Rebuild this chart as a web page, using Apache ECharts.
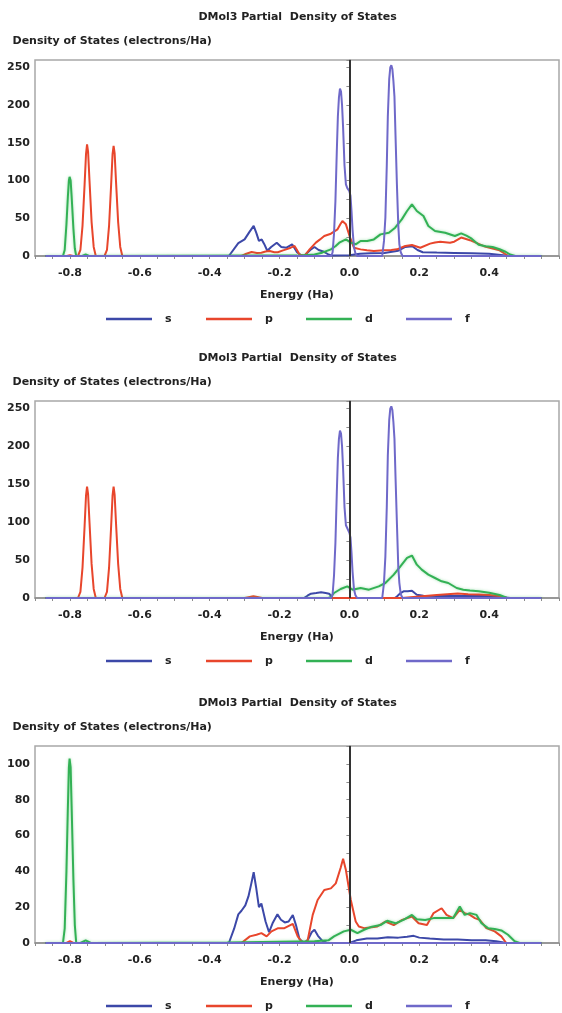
<!DOCTYPE html>
<html><head><meta charset="utf-8">
<script src="https://cdn.jsdelivr.net/npm/echarts@6/dist/echarts.min.js"></script>
<style>html,body{margin:0;padding:0;background:#fff}#c{width:562px;height:1013px}</style>
</head><body><div id="c"></div>
<script>
const seriesNames = ['s', 'p', 'd', 'f'];
const chartTitle = 'DMol3 Partial  Density of States';
const yAxisTitle = 'Density of States (electrons/Ha)';
const xAxisTitle = 'Energy (Ha)';
const xTickLabels = ['-0.8', '-0.6', '-0.4', '-0.2', '0.0', '0.2', '0.4'];
const yTickLabelsTop = [0, 50, 100, 150, 200, 250];
const yTickLabelsBottom = [0, 20, 40, 60, 80, 100];

// ---- Panel 1 (total) ----
const c1_s = [[-0.87,0],[-0.68,0],[-0.675,2],[-0.67,0],[-0.345,0],[-0.318,17],[-0.300,22],[-0.286,32],[-0.274,40],[-0.266,30],[-0.259,20],[-0.251,22],[-0.244,16],[-0.235,7],[-0.224,12],[-0.208,17.5],[-0.195,12],[-0.180,11],[-0.164,15.5],[-0.150,5],[-0.137,0.5],[-0.128,1],[-0.112,8],[-0.100,12],[-0.088,8],[-0.075,6],[-0.060,2],[-0.050,0.5],[0.0,1],[0.03,3],[0.06,3.5],[0.10,4],[0.14,7],[0.16,12],[0.18,13],[0.195,8],[0.21,5],[0.25,4.5],[0.30,4],[0.35,3.5],[0.40,3],[0.44,1],[0.46,0],[0.55,0]];
const c1_p = [[-0.87,0],[-0.81,0],[-0.80,1],[-0.79,0],[-0.777,0],[-0.770,8],[-0.764,40],[-0.758,95],[-0.754,135],[-0.751,148],[-0.748,138],[-0.744,100],[-0.738,45],[-0.732,12],[-0.726,0],[-0.701,0],[-0.694,8],[-0.688,40],[-0.682,95],[-0.678,135],[-0.675,146],[-0.672,136],[-0.668,98],[-0.662,45],[-0.656,12],[-0.650,0],[-0.309,0],[-0.295,3],[-0.280,5.3],[-0.265,4],[-0.252,4.4],[-0.240,6],[-0.228,6.6],[-0.215,5],[-0.205,4.9],[-0.190,7.5],[-0.181,8.8],[-0.168,11],[-0.157,13.3],[-0.150,8],[-0.143,2],[-0.129,0],[-0.114,8.8],[-0.096,17.7],[-0.084,22],[-0.072,26.5],[-0.053,29.6],[-0.034,35.4],[-0.026,42],[-0.020,46.4],[-0.010,42],[0.002,24.3],[0.013,11],[0.032,8.8],[0.050,7.5],[0.070,6.6],[0.098,7.5],[0.120,8],[0.136,8.8],[0.160,13.3],[0.179,14.6],[0.203,11],[0.231,16.4],[0.245,18],[0.260,18.8],[0.288,17.7],[0.30,19],[0.32,24.5],[0.345,21],[0.365,17],[0.385,13],[0.41,10],[0.43,7.5],[0.445,3],[0.455,0],[0.55,0]];
const c1_d = [[-0.87,0],[-0.820,0],[-0.815,8],[-0.810,42],[-0.806,78],[-0.803,100],[-0.801,105],[-0.798,100],[-0.795,78],[-0.790,36],[-0.786,10],[-0.782,0],[-0.765,0],[-0.755,2],[-0.745,0],[-0.25,0.5],[-0.15,0.5],[-0.10,2],[-0.078,4.4],[-0.053,8.8],[-0.040,13],[-0.029,17.7],[-0.010,22],[0.004,17.7],[0.018,15.5],[0.032,19.9],[0.051,19.9],[0.070,22],[0.089,28.7],[0.113,30.9],[0.131,37.6],[0.150,48.6],[0.165,59.7],[0.179,68.5],[0.193,59.7],[0.212,53],[0.226,39.8],[0.245,33.2],[0.274,30.9],[0.302,26.5],[0.32,30],[0.335,27],[0.35,23],[0.37,15],[0.39,13],[0.41,12],[0.43,9],[0.445,6],[0.46,2],[0.475,0],[0.55,0]];
const c1_f = [[-0.87,0],[-0.052,0],[-0.048,5],[-0.044,30],[-0.040,73],[-0.036,140],[-0.033,185],[-0.030,210],[-0.027,222],[-0.024,218],[-0.021,200],[-0.018,170],[-0.014,120],[-0.010,95],[-0.006,90],[-0.003,88],[0.000,86],[0.003,80],[0.006,60],[0.009,35],[0.013,12],[0.017,4],[0.022,0],[0.094,0],[0.099,20],[0.103,51],[0.107,120],[0.110,185],[0.114,235],[0.117,250],[0.120,253],[0.123,248],[0.126,232],[0.129,211],[0.132,160],[0.136,95],[0.140,40],[0.143,15.6],[0.147,5],[0.152,0],[0.55,0]];

// ---- Panel 2 ----
const c2_s = [[-0.87,0],[-0.13,0],[-0.12,3],[-0.110,5.7],[-0.095,6.5],[-0.081,7.5],[-0.068,6.5],[-0.058,5.7],[-0.048,0],[0.13,0],[0.136,2],[0.145,6],[0.155,8.8],[0.167,9],[0.179,9.7],[0.186,7],[0.193,4.4],[0.212,3],[0.25,2.5],[0.30,3],[0.35,2.5],[0.40,2.5],[0.44,1],[0.46,0],[0.55,0]];
const c2_p = [[-0.87,0],[-0.777,0],[-0.770,8],[-0.764,40],[-0.758,95],[-0.754,135],[-0.751,147],[-0.748,137],[-0.744,100],[-0.738,45],[-0.732,12],[-0.726,0],[-0.701,0],[-0.694,8],[-0.688,40],[-0.682,95],[-0.678,135],[-0.675,147],[-0.672,136],[-0.668,98],[-0.662,45],[-0.656,12],[-0.650,0],[-0.30,0],[-0.285,1.5],[-0.275,2.5],[-0.26,1],[-0.25,0],[0.15,0],[0.20,2],[0.25,4],[0.28,5],[0.31,6],[0.34,5],[0.37,4.5],[0.40,4],[0.43,2.5],[0.45,0],[0.55,0]];
const c2_d = [[-0.87,0],[-0.06,0],[-0.053,1.3],[-0.044,6.6],[-0.025,11.9],[-0.006,15.4],[0.009,11],[0.032,13.2],[0.056,11],[0.084,15.4],[0.103,19.8],[0.127,30.8],[0.146,41.8],[0.165,52.9],[0.179,56],[0.193,44],[0.207,37.4],[0.226,30.8],[0.245,26.4],[0.264,22],[0.283,19.8],[0.307,13.2],[0.326,11],[0.345,10],[0.37,9],[0.40,7],[0.43,4],[0.45,0.5],[0.46,0],[0.55,0]];
const c2_f = [[-0.87,0],[-0.052,0],[-0.048,5],[-0.044,30],[-0.040,73],[-0.036,140],[-0.033,185],[-0.030,210],[-0.027,221],[-0.024,217],[-0.021,200],[-0.018,170],[-0.014,120],[-0.010,96],[-0.006,92],[-0.003,89],[0.000,86],[0.003,80],[0.006,60],[0.009,35],[0.013,12],[0.017,4],[0.022,0],[0.094,0],[0.099,20],[0.103,55],[0.107,120],[0.110,188],[0.114,235],[0.117,250],[0.120,253],[0.123,248],[0.126,232],[0.129,210],[0.132,160],[0.136,99],[0.140,40],[0.143,20],[0.147,5],[0.152,0],[0.55,0]];

// ---- Panel 3 ----
const c3_s = [[-0.87,0],[-0.345,0],[-0.330,8],[-0.318,16],[-0.309,18],[-0.298,21],[-0.289,26],[-0.281,33],[-0.274,39.5],[-0.267,31],[-0.259,20],[-0.252,22],[-0.247,21],[-0.240,12],[-0.230,6],[-0.220,11],[-0.206,16],[-0.196,13],[-0.185,11.5],[-0.174,12],[-0.162,15.6],[-0.153,10],[-0.143,2.2],[-0.130,0],[-0.118,2],[-0.108,6],[-0.100,7.4],[-0.090,4],[-0.078,1.3],[-0.064,0],[0.0,0],[0.02,1.5],[0.05,2.5],[0.08,2.5],[0.11,3.2],[0.14,3],[0.165,3.5],[0.184,4],[0.20,3],[0.23,2.5],[0.27,2],[0.31,2],[0.35,1.5],[0.39,1.5],[0.42,1],[0.45,0],[0.55,0]];
const c3_p = [[-0.87,0],[-0.81,0],[-0.80,1],[-0.79,0],[-0.309,0],[-0.285,3.7],[-0.266,4.6],[-0.252,5.5],[-0.237,3.7],[-0.223,6.5],[-0.204,8.3],[-0.186,8.3],[-0.162,10.7],[-0.148,3.7],[-0.134,0],[-0.120,1],[-0.105,15.7],[-0.091,24],[-0.072,29.6],[-0.053,30.5],[-0.039,33.3],[-0.025,42],[-0.018,47],[-0.010,40.7],[0.004,24],[0.018,12],[0.027,9.2],[0.042,8.3],[0.080,9.2],[0.103,12],[0.127,10],[0.151,12.9],[0.179,14.8],[0.198,11],[0.222,10],[0.241,16.7],[0.264,19.4],[0.278,15.7],[0.297,13.9],[0.316,18.5],[0.330,16.7],[0.345,15.7],[0.359,13.9],[0.373,12.9],[0.392,8.3],[0.416,6.5],[0.435,3.7],[0.449,0],[0.55,0]];
const c3_d = [[-0.87,0],[-0.820,0],[-0.815,8],[-0.810,40],[-0.806,75],[-0.803,98],[-0.801,103],[-0.798,98],[-0.795,75],[-0.790,35],[-0.786,10],[-0.782,0],[-0.77,0],[-0.755,1.5],[-0.74,0],[-0.35,0.3],[-0.10,1],[-0.06,1.5],[-0.044,3.7],[-0.016,6.5],[0.004,7.4],[0.023,5.5],[0.042,7.4],[0.061,8.9],[0.089,10],[0.108,12.4],[0.132,11],[0.155,12.9],[0.179,15.7],[0.193,13.3],[0.217,12.9],[0.241,13.9],[0.269,13.9],[0.297,13.9],[0.316,20.4],[0.330,15.7],[0.345,16.7],[0.364,15.7],[0.378,11],[0.397,8.3],[0.416,7.8],[0.435,7],[0.454,4.6],[0.473,1],[0.487,0],[0.55,0]];
const c3_f = [[-0.87,0],[0.55,0]];

const panelData = [[c1_s, c1_p, c1_d, c1_f], [c2_s, c2_p, c2_d, c2_f], [c3_s, c3_p, c3_d, c3_f]];
const colors = ['#3c48a8', '#e8462c', '#33b155', '#6f69c9'];
const panels = [
  {top: 60, height: 196, max: 260, step: 25, labels: yTickLabelsTop},
  {top: 401, height: 197, max: 260, step: 25, labels: yTickLabelsTop},
  {top: 746, height: 197, max: 110, step: 10, labels: yTickLabelsBottom}
];
const FONT = '"DejaVu Sans", Verdana, sans-serif';
const txt = {fontFamily: FONT, fontWeight: 'bold', fontSize: 11, color: '#222'};
const axisCol = '#8c8c8c';

const grids = [], xAxes = [], yAxes = [], legends = [], series = [], graphics = [];
panels.forEach((pn, i) => {
  grids.push({left: 35, top: pn.top, width: 528, height: pn.height, show: true, borderColor: '#a8a8a8', borderWidth: 1.5});
  const xFmt = v => { const s = (Math.abs(v) < 1e-9 ? 0 : v).toFixed(1); return (Math.abs(v*5 - Math.round(v*5)) < 1e-6 && xTickLabels.includes(s)) ? s : ''; };
  xAxes.push({gridIndex: i, type: 'value', min: -0.9, max: 0.6, interval: 0.05,
    axisLine: {show: true, onZero: false, lineStyle: {color: axisCol, width: 1.5}},
    axisTick: {show: true, length: 3, lineStyle: {color: axisCol}},
    splitLine: {show: false},
    axisLabel: Object.assign({margin: 12, formatter: xFmt, hideOverlap: false}, txt),
    name: xAxisTitle, nameLocation: 'middle', nameGap: 34, nameTextStyle: Object.assign({}, txt)});
  xAxes.push({gridIndex: i, type: 'value', min: -0.9, max: 0.6, interval: 0.05,
    axisLine: {show: false}, axisTick: {show: true, inside: true, length: 3, lineStyle: {color: axisCol}},
    splitLine: {show: false}, axisLabel: {show: false}});
  yAxes.push({gridIndex: i, type: 'value', min: 0, max: pn.max, interval: pn.step,
    axisLine: {show: true, lineStyle: {color: axisCol, width: 1.5}},
    axisTick: {show: true, length: 3, lineStyle: {color: axisCol}},
    splitLine: {show: false},
    axisLabel: Object.assign({margin: 5, formatter: v => pn.labels.includes(v) ? String(v) : ''}, txt)});
  const zero = pn.top + pn.height;
  legends.push({data: seriesNames, top: zero + 52, left: 101, icon: 'rect', itemWidth: 46, itemHeight: 2.5, itemGap: 29,
    selectedMode: false, textStyle: Object.assign({width: 12, padding: [0, 0, 0, 8], lineHeight: 12}, txt)});
  graphics.push({type: 'text', x: 297.6, y: pn.top - 42.5, style: {text: chartTitle, textAlign: 'center', textVerticalAlign: 'middle', font: 'bold 11px ' + FONT, fill: '#222'}});
  graphics.push({type: 'text', x: 12.5, y: pn.top - 18.5, style: {text: yAxisTitle, textAlign: 'left', textVerticalAlign: 'middle', font: 'bold 11px ' + FONT, fill: '#222'}});
  seriesNames.forEach((nm, k) => {
    const s = {type: 'line', name: nm, xAxisIndex: 2 * i, yAxisIndex: i, data: panelData[i][k],
      symbol: 'none', showSymbol: false, clip: true, animation: false,
      lineStyle: {width: 2, color: colors[k]}, itemStyle: {color: colors[k]}};
    if (nm === 'd') { s.lineStyle.shadowColor = 'rgba(60,190,90,0.45)'; s.lineStyle.shadowBlur = 3; }
    if (nm === 'f') {
      s.markLine = {silent: true, symbol: ['none', 'none'], label: {show: false}, animation: false,
        lineStyle: {color: '#333', width: 2, type: 'solid'}, data: [{xAxis: 0}]};
    }
    series.push(s);
  });
});

const chart = echarts.init(document.getElementById('c'), null, {renderer: 'canvas'});
chart.setOption({
  animation: false,
  backgroundColor: '#fff',
  grid: grids, xAxis: xAxes, yAxis: yAxes, legend: legends, series: series,
  graphic: graphics
});
</script></body></html>
